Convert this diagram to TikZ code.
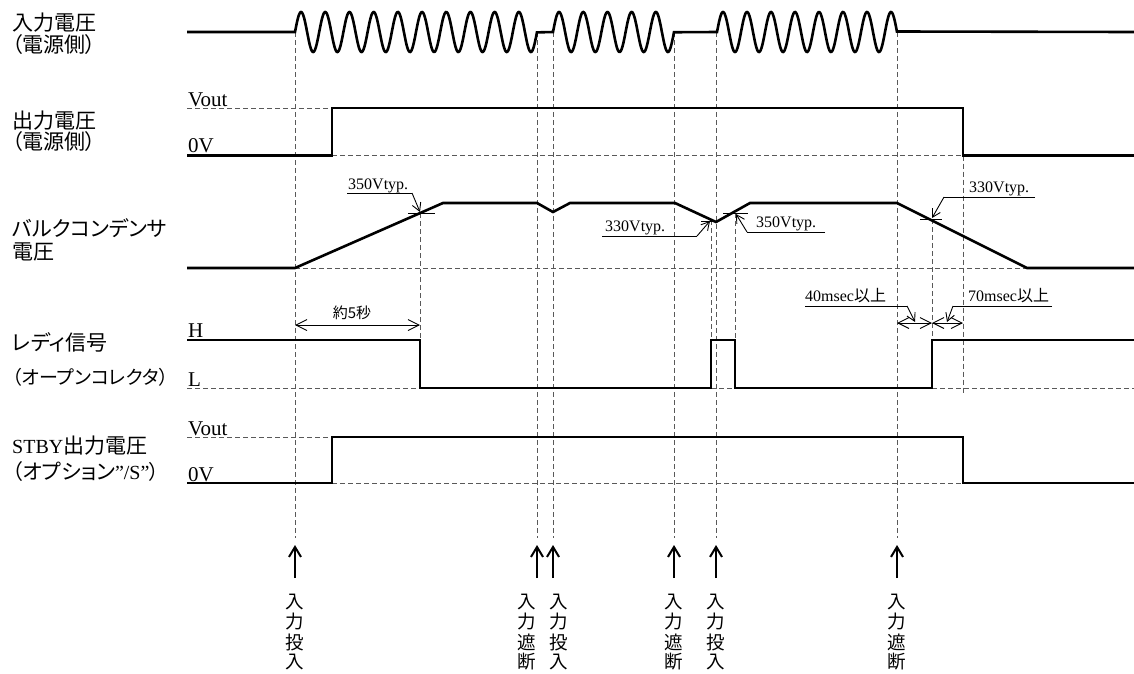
\documentclass[tikz,border=0pt]{standalone}
\usepackage{fontspec}
\setmainfont{Liberation Serif}
\newfontfamily\jp[RawFeature=+palt]{Noto Sans CJK JP}
\newfontfamily\jpf{Noto Sans CJK JP}
\usetikzlibrary{arrows.meta}
\tikzset{
  sig/.style={line width=2.6pt, line join=miter},
  guide/.style={draw=black!65, line width=0.8pt, dash pattern=on 5pt off 3pt},
  note/.style={line width=0.9pt},
  lbl/.style={anchor=west, inner sep=0pt, font=\fontsize{21}{24}\selectfont},
  lvl/.style={anchor=base west, inner sep=0pt, font=\fontsize{21}{24}\selectfont},
  small/.style={anchor=base west, inner sep=0pt, font=\fontsize{16}{18}\selectfont},
  dimarrow/.style={line width=0.9pt, {Straight Barb[length=11pt,width=11pt]}-{Straight Barb[length=11pt,width=11pt]}},
  lead/.style={line width=0.9pt, -{Straight Barb[length=8pt,width=9pt]}},
  evarrow/.style={line width=2pt, -{Straight Barb[length=10pt,width=12pt,line width=2pt]}},
  evchar/.style={anchor=center, inner sep=0pt, font=\jpf\fontsize{18.5}{20}\selectfont},
}
\begin{document}
\begin{tikzpicture}[x=1pt,y=-1pt]
\fill[white] (0,0) rectangle (1134,673);
\useasboundingbox (0,0) rectangle (1134,673);

% ---------- left labels ----------
\node[lbl] (l1a) at (12,23) {\jp 入力電圧};
\node[lbl] (l1b) at (12,45) {\jp （電源側）};
\node[lbl] (l2a) at (12,121) {\jp 出力電圧};
\node[lbl] (l2b) at (12,142) {\jp （電源側）};
\node[lbl] (l3a) at (12,228) {\jp バルクコンデンサ};
\node[lbl] (l3b) at (12,252) {\jp 電圧};
\node[lbl] (l4a) at (12,342) {\jp レディ信号};
\node[lbl] (l4b) at (12,377) {\jp\fontsize{19}{22}\selectfont （オープンコレクタ）};
\node[lbl] (l5a) at (12,446) {\fontsize{20}{24}\selectfont STBY{\jp\fontsize{21}{24}\selectfont 出力電圧}};
\node[lbl] (l5b) at (12,472) {{\jp （オプション}\fontsize{20}{24}\selectfont ”/S”{\jp ）}};

% ---------- level labels ----------
\node[lvl] (v2h) at (188,106) {Vout};
\node[lvl] (v2l) at (188,152) {0V};
\node[lvl] (v4h) at (188,337) {H};
\node[lvl] (v4l) at (188,386) {L};
\node[lvl] (v5h) at (188,435) {Vout};
\node[lvl] (v5l) at (188,481) {0V};

% ---------- guide lines ----------
\draw[guide] (187,108) -- (332,108);
\draw[guide] (332,155.5) -- (963,155.5);
\draw[guide] (295,268) -- (1027,268);
\draw[guide] (187,388) -- (420,388);
\draw[guide] (711,388) -- (735,388);
\draw[guide] (932,388) -- (1134,388);
\draw[guide] (187,437) -- (332,437);
\draw[guide] (332,483) -- (963,483);
\draw[guide] (420,213) -- (420,340);
\draw[guide] (711,220) -- (711,340);
\draw[guide] (735,213) -- (735,340);
\draw[guide] (932,219) -- (932,340);
\draw[guide] (963,155.5) -- (963,395);

% ---------- events ----------
\foreach \x/\tx/\wa/\wb [count=\i] in {295/295/投/入,537/527/遮/断,553/559/投/入,674/674/遮/断,716/716/投/入,897/897/遮/断} {
  \coordinate (g\i) at (\x,32);
  \coordinate (h\i) at (\x,538);
  \draw[guide] (g\i) -- (h\i);
  \coordinate (a\i) at (\x,578);
  \coordinate (b\i) at (\x,545);
  \draw[evarrow] (a\i) -- (b\i);
  \node[evchar] (t\i a) at (\tx,602.5) {入};
  \node[evchar] (t\i b) at (\tx,622) {力};
  \node[evchar] (t\i c) at (\tx,642) {\wa};
  \node[evchar] (t\i d) at (\tx,662) {\wb};
}

% ---------- signals ----------
% input voltage
\draw[sig] (187,32) -- (295,32)
  -- plot[domain=0:10, samples=400, smooth] ({295+24.2*\x},{32-20*sin(360*\x)})
  -- (553,32)
  -- plot[domain=0:5, samples=200, smooth] ({553+24.2*\x},{32-20*sin(360*\x)})
  -- (717,32)
  -- plot[domain=0:7.5, samples=300, smooth] ({717+24*\x},{32-20*sin(360*\x)})
  -- (1134,32);
% output voltage
\draw[sig] (187,155.5) -- (332,155.5) -- (332,108) -- (963,108) -- (963,155.5) -- (1134,155.5);
% bulk capacitor
\draw[sig] (187,268) -- (295,268) -- (443,203) -- (537,203) -- (553,212) -- (570,203)
  -- (675,203) -- (716,222) -- (750,203) -- (897,203) -- (1027,268) -- (1134,268);
% ready signal
\draw[sig] (187,340) -- (420,340) -- (420,388) -- (711,388) -- (711,340) -- (735,340)
  -- (735,388) -- (932,388) -- (932,340) -- (1134,340);
% STBY
\draw[sig] (187,483) -- (332,483) -- (332,437) -- (963,437) -- (963,483) -- (1134,483);

% ---------- annotations ----------
\node[small] (n1) at (348,189) {350Vtyp.};
\coordinate (n1a) at (347,193); \coordinate (n1b) at (412,193); \coordinate (n1c) at (420,212);
\draw[note] (n1a) -- (n1b);
\draw[lead] (n1b) -- (n1c);
\draw[note] (408,213) -- (435,213);

\node[small] (n2) at (605,231) {330Vtyp.};
\coordinate (n2a) at (602,236); \coordinate (n2b) at (697,236); \coordinate (n2c) at (710,221);
\draw[note] (n2a) -- (n2b);
\draw[lead] (n2b) -- (n2c);
\draw[note] (701,221) -- (718,221);

\node[small] (n3) at (756,227) {350Vtyp.};
\coordinate (n3a) at (825,232); \coordinate (n3b) at (747,232); \coordinate (n3c) at (736,214);
\draw[note] (n3a) -- (n3b);
\draw[lead] (n3b) -- (n3c);
\draw[note] (723,213) -- (748,213);

\node[small] (n4) at (969,192) {330Vtyp.};
\coordinate (n4a) at (1035,197); \coordinate (n4b) at (944,197); \coordinate (n4c) at (932,218);
\draw[note] (n4a) -- (n4b);
\draw[lead] (n4b) -- (n4c);
\draw[note] (920,219) -- (942,219);

% about 5 seconds
\node[anchor=center, inner sep=0pt, font=\jp\fontsize{15}{17}\selectfont] (d5) at (352,313) {約5秒};
\coordinate (d5a) at (295,325); \coordinate (d5b) at (420,325);
\draw[dimarrow] (d5a) -- (d5b);

% 40 / 70 msec
\coordinate (m1) at (897,323); \coordinate (m2) at (932,323); \coordinate (m3) at (963,323);
\draw[dimarrow] (m1) -- (m2);
\draw[dimarrow] (m2) -- (m3);
\node[small] (n5) at (805,301) {40msec{\jpf 以上}};
\coordinate (n5a) at (805,306); \coordinate (n5b) at (907,306); \coordinate (n5c) at (915,322);
\draw[note] (n5a) -- (n5b);
\draw[lead] (n5b) -- (n5c);
\node[small] (n6) at (968,301) {70msec{\jpf 以上}};
\coordinate (n6a) at (1052,306); \coordinate (n6b) at (953,306); \coordinate (n6c) at (947,322);
\draw[note] (n6a) -- (n6b);
\draw[lead] (n6b) -- (n6c);
\end{tikzpicture}
\end{document}
